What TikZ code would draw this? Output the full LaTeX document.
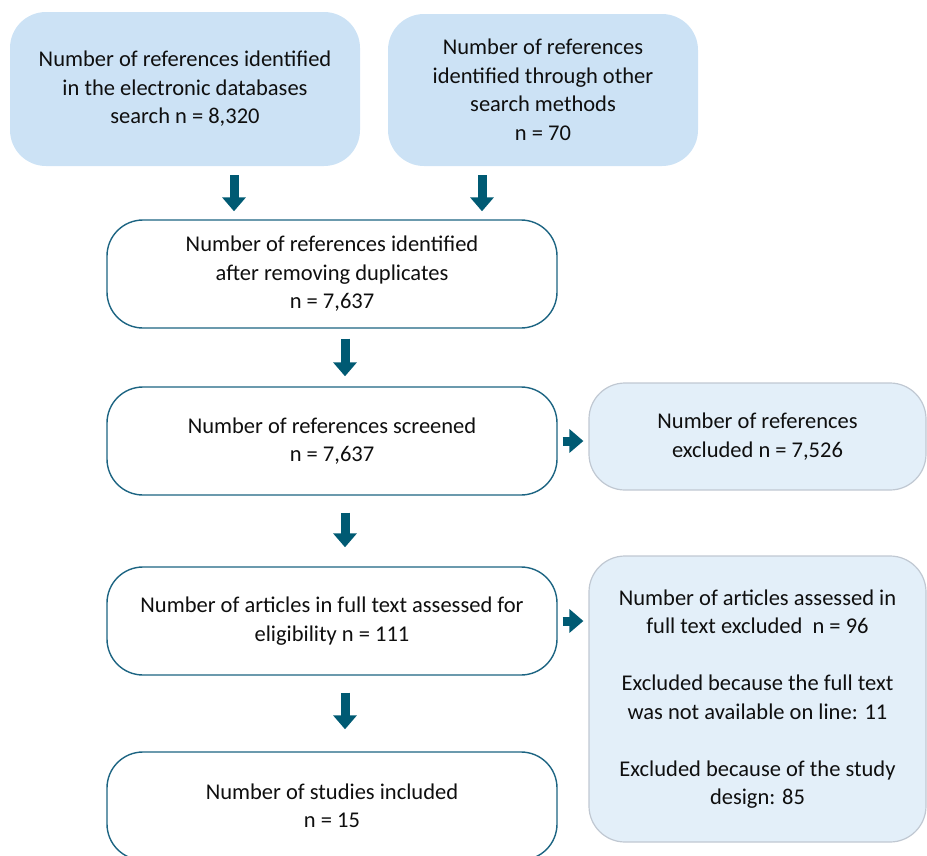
\documentclass[tikz,border=0pt]{standalone}
\usepackage{fontspec}
\setmainfont{Carlito}
\usetikzlibrary{arrows.meta,calc}
\definecolor{bluefill}{RGB}{204,226,245}
\definecolor{palefill}{RGB}{227,239,249}
\definecolor{paleline}{RGB}{192,200,210}
\definecolor{tealline}{RGB}{28,100,130}
\definecolor{arrowcol}{RGB}{0,90,115}
\definecolor{txt}{RGB}{15,15,15}
\tikzset{
  boxbase/.style={rectangle, rounded corners=36pt, inner sep=0pt, align=center,
    text=txt, font=\fontsize{22.5}{28.5}\selectfont},
  topbox/.style={boxbase, fill=bluefill, draw=none},
  whitebox/.style={boxbase, fill=white, draw=tealline, line width=1.4pt,
    minimum width=450pt, minimum height=108pt},
  sidebox/.style={boxbase, fill=palefill, draw=paleline, line width=1.2pt},
  blockarrow/.style={draw=arrowcol, line width=9pt, line cap=butt,
    -{Triangle[width=23pt,length=14pt]}}
}
\begin{document}
\begin{tikzpicture}[x=1pt,y=-1pt]
\useasboundingbox (0,0) rectangle (927,855);
\node[topbox, minimum width=350pt, minimum height=154pt] (A) at (185,89)
  {Number of references identified\\in the electronic databases\\search n = 8,320};
\node[topbox, minimum width=310pt, minimum height=152pt] (B) at (543,90)
  {Number of references\\identified through other\\search methods\\n = 70};
\node[whitebox] (C) at (332,274)
  {Number of references identified\\after removing duplicates\\n = 7,637};
\node[whitebox] (D) at (332,441)
  {Number of references screened\\n = 7,637};
\node[sidebox, minimum width=337pt, minimum height=107pt] (E) at (757.5,436.5)
  {Number of references\\excluded n = 7,526};
\node[whitebox] (F) at (332,621)
  {Number of articles in full text assessed for\\eligibility n = 111};
\node[sidebox, minimum width=337pt, minimum height=286pt] (G) at (757.5,699)
  {Number of articles assessed in\\full text excluded\ \ n = 96\\[28.5pt]Excluded because the full text\\was not available on line: 11\\[28.5pt]Excluded because of the study\\design: 85};
\node[whitebox] (H) at (332,806)
  {Number of studies included\\n = 15};
\coordinate (xa) at (234,0);
\coordinate (xb) at (482,0);
\coordinate (xc) at (345,0);
\draw[blockarrow, shorten <=9pt, shorten >=8pt] (A.south -| xa) -- (C.north -| xa);
\draw[blockarrow, shorten <=9pt, shorten >=8pt] (B.south -| xb) -- (C.north -| xb);
\draw[blockarrow, shorten <=10pt, shorten >=10pt] (C.south -| xc) -- (D.north -| xc);
\draw[blockarrow, shorten <=17pt, shorten >=19pt] (D.south -| xc) -- (F.north -| xc);
\draw[blockarrow, shorten <=17pt, shorten >=22pt] (F.south -| xc) -- (H.north -| xc);
\draw[blockarrow, shorten <=5pt, shorten >=5pt] (D.east) -- (D.east -| E.west);
\draw[blockarrow, shorten <=5pt, shorten >=5pt] (F.east) -- (F.east -| G.west);
\end{tikzpicture}
\end{document}
